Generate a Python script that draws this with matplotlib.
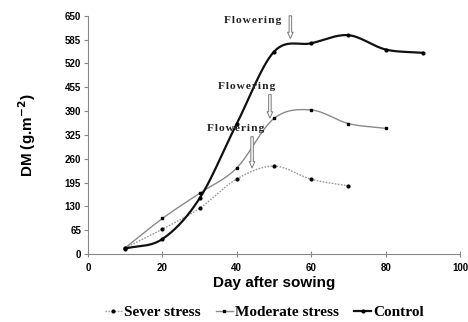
import numpy as np
import matplotlib
matplotlib.use("Agg")
import matplotlib.pyplot as plt
from matplotlib.lines import Line2D

# Dry matter accumulation (g/m2) by day after sowing
days_severe = [10, 20, 30, 40, 50, 60, 70]
dm_severe = [17, 68, 125, 205, 240, 204, 186]

days_moderate = [10, 20, 30, 40, 50, 60, 70, 80]
dm_moderate = [17, 97, 166, 235, 370, 393, 356, 343]

days_control = [10, 20, 30, 40, 50, 60, 70, 80, 90]
dm_control = [15, 41, 152, 356, 552, 575, 597, 558, 549]

series_names = ["Sever stress", "Moderate stress", "Control"]
y_ticks = [0, 65, 130, 195, 260, 325, 390, 455, 520, 585, 650]
x_ticks = [0, 20, 40, 60, 80, 100]

# Flowering marks: (arrow day, arrow tip dm, arrow top dm, text x, text y)
flower_control = (54.4, 588, 650, 44.3, 638)
flower_moderate = (48.9, 371, 435, 42.6, 456)
flower_severe = (44.1, 235, 320, 39.7, 343)


def smooth(x, y, n=30):
    """Catmull-Rom curve through the points, as Excel's smoothed line."""
    x = np.asarray(x, float)
    y = np.asarray(y, float)
    px = np.concatenate([[2 * x[0] - x[1]], x, [2 * x[-1] - x[-2]]])
    py = np.concatenate([[2 * y[0] - y[1]], y, [2 * y[-1] - y[-2]]])
    xs, ys = [], []
    t = np.linspace(0, 1, n)
    for i in range(1, len(px) - 2):
        p0, p1, p2, p3 = (np.array([px[j], py[j]]) for j in range(i - 1, i + 3))
        b1 = p1 + (p2 - p0) / 6
        b2 = p2 - (p3 - p1) / 6
        pts = ((1 - t) ** 3)[:, None] * p1 + (3 * (1 - t) ** 2 * t)[:, None] * b1 \
            + (3 * (1 - t) * t ** 2)[:, None] * b2 + (t ** 3)[:, None] * p2
        xs.append(pts[:, 0])
        ys.append(pts[:, 1])
    return np.concatenate(xs), np.concatenate(ys)


fig = plt.figure(figsize=(4.68, 3.22), dpi=100)
ax = fig.add_axes([0.188, 0.211, 0.795, 0.74])

styles = [
    dict(color="#9a9a9a", lw=1.0, ls=(0, (1.2, 1.0)), marker="o", ms=2.0),
    dict(color="#8a8a8a", lw=1.0, ls="-", marker="s", ms=2.0),
    dict(color="#111111", lw=1.6, ls="-", marker="o", ms=2.0),
]
data = [(days_severe, dm_severe), (days_moderate, dm_moderate), (days_control, dm_control)]
handles = []
for (xd, yd), st, name in zip(data, styles, series_names):
    sx, sy = smooth(xd, yd)
    ax.plot(sx, sy, color=st["color"], lw=st["lw"], ls=st["ls"], zorder=2)
    ax.plot(xd, yd, ls="none", marker=st["marker"], ms=st["ms"], color="black", zorder=3)
    handles.append(Line2D([], [], color=st["color"], lw=st["lw"], ls=st["ls"],
                          marker=st["marker"], ms=st["ms"], mfc="black", mec="black"))

ax.set_xlim(0, 100)
ax.set_ylim(0, 650)
ax.set_xticks(x_ticks)
ax.set_yticks(y_ticks)
for s in ("top", "right"):
    ax.spines[s].set_visible(False)
for s in ("left", "bottom"):
    ax.spines[s].set_color("#888888")
    ax.spines[s].set_linewidth(0.8)
ax.tick_params(axis="y", direction="out", length=3, width=0.8, color="#888888", pad=2)
ax.tick_params(axis="x", direction="inout", length=5, width=0.8, color="#888888", pad=4)
for lab in ax.get_xticklabels() + ax.get_yticklabels():
    lab.set_fontsize(7)
    lab.set_fontweight("bold")
    lab.set_family(["Liberation Sans", "DejaVu Sans"])

ax.set_ylabel("DM (g.m$^{\\mathbf{-2}}$)", fontsize=11, fontweight="bold",
              family=["Liberation Sans", "DejaVu Sans"], labelpad=19)
ax.set_xlabel("Day after sowing", fontsize=11, fontweight="bold",
              family=["Liberation Sans", "DejaVu Sans"], labelpad=2)

# Flowering labels with hollow downward arrows
for day, tip, top, tx, ty in (flower_control, flower_moderate, flower_severe):
    ax.annotate("", xy=(day, tip), xytext=(day, top),
                arrowprops=dict(arrowstyle="simple,head_length=0.45,head_width=0.4,tail_width=0.18",
                                fc="white", ec="#777777", lw=0.7, shrinkA=0, shrinkB=0),
                zorder=4)
    ax.text(tx, ty, "\u200a".join("Flowering"), fontsize=8.2, fontweight="bold",
            family=["Liberation Serif", "DejaVu Serif"], ha="center", va="center",
            color="#222222", zorder=5)

leg = fig.legend(handles, series_names, loc="center", bbox_to_anchor=(0.565, 0.03),
                 ncol=3, frameon=False, handlelength=1.1, handletextpad=0.15,
                 columnspacing=1.0, prop=dict(family=["Liberation Serif", "DejaVu Serif"],
                                              weight="bold", size=11))

fig.savefig("out.png", dpi=100)
